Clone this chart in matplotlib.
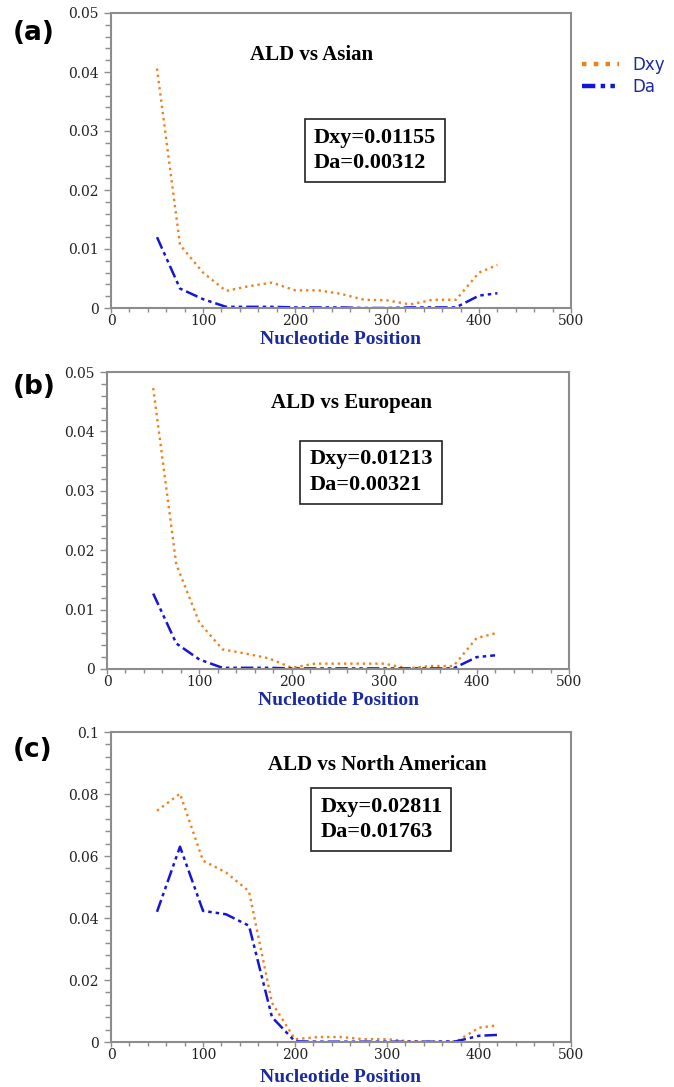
"""Dxy and Da along the nucleotide position for ALD vs three populations."""
import matplotlib
matplotlib.use("Agg")
import matplotlib.pyplot as plt
from matplotlib.lines import Line2D
from matplotlib.ticker import MultipleLocator, FormatStrFormatter

positions = [50, 75, 100, 125, 150, 175, 200, 225, 250, 275, 300, 325, 350, 375, 400, 420]

asian_dxy = [0.0406, 0.0107, 0.0060, 0.0029, 0.0037, 0.0043, 0.0030, 0.0030,
             0.0024, 0.0014, 0.0013, 0.0006, 0.0014, 0.0014, 0.0060, 0.0073]
asian_da = [0.0120, 0.0033, 0.0015, 0.0002, 0.0002, 0.0002, 0.0001, 0.0001,
            0.0001, 0.0000, 0.0000, 0.0001, 0.0001, 0.0001, 0.0021, 0.0025]
europe_dxy = [0.0473, 0.0176, 0.0078, 0.0033, 0.0026, 0.0018, 0.0002, 0.0009,
              0.0009, 0.0009, 0.0009, 0.0001, 0.0005, 0.0005, 0.0052, 0.0060]
europe_da = [0.0127, 0.0043, 0.0016, 0.0002, 0.0002, 0.0002, 0.0001, 0.0001,
             0.0001, 0.0001, 0.0001, 0.0001, 0.0001, 0.0001, 0.0020, 0.0023]
na_dxy = [0.0746, 0.0801, 0.0585, 0.0547, 0.0486, 0.0126, 0.0009, 0.0016,
          0.0016, 0.0009, 0.0009, 0.0002, 0.0001, 0.0001, 0.0046, 0.0054]
na_da = [0.0420, 0.0630, 0.0423, 0.0412, 0.0375, 0.0080, 0.0002, 0.0001,
         0.0001, 0.0001, 0.0001, 0.0001, 0.0001, 0.0002, 0.0020, 0.0023]

panel_tags = ["(a)", "(b)", "(c)"]
titles = ["ALD vs Asian", "ALD vs European", "ALD vs North American"]
summaries = ["Dxy=0.01155\nDa=0.00312", "Dxy=0.01213\nDa=0.00321", "Dxy=0.02811\nDa=0.01763"]
y_max = [0.05, 0.05, 0.1]

W, H = 674, 1087
DXY_COLOR = "#f0801e"
DA_COLOR = "#1515d8"
LABEL_BLUE = "#1c2aa0"
SPINE = "#8c8c8c"
DA_DASH = (0, (5, 1.6, 1.4, 1.6, 1.4, 1.6))

# pixel boxes: left, right, top, bottom
boxes = [(111, 571, 13, 308), (107, 569, 372, 669), (111, 571, 732, 1042)]
title_pos = [(0.437, 0.858), (0.530, 0.896), (0.578, 0.894)]
summary_pos = [(0.441, 0.534), (0.438, 0.663), (0.455, 0.718)]
xlabel_pad = [2.5, 2.5, 5.0]
tag_y = [33, 387, 750]

fig = plt.figure(figsize=(W / 100, H / 100), dpi=100)

series = [(asian_dxy, asian_da), (europe_dxy, europe_da), (na_dxy, na_da)]
for i, (dxy, da) in enumerate(series):
    l, r, t, b = boxes[i]
    ax = fig.add_axes([l / W, 1 - b / H, (r - l) / W, (b - t) / H])
    ax.plot(positions, dxy, color=DXY_COLOR, linestyle=":", linewidth=1.7)
    ax.plot(positions, da, color=DA_COLOR, linestyle=DA_DASH, linewidth=1.8)
    ax.set_xlim(0, 500)
    ax.set_ylim(0, y_max[i])
    ax.xaxis.set_major_locator(MultipleLocator(100))
    ax.xaxis.set_minor_locator(MultipleLocator(20))
    ax.yaxis.set_major_locator(MultipleLocator(y_max[i] / 5))
    ax.yaxis.set_minor_locator(MultipleLocator(y_max[i] / 25))
    ax.yaxis.set_major_formatter(FormatStrFormatter("%g"))
    ax.tick_params(which="both", direction="out", color=SPINE, width=1.0,
                   labelsize=10, labelcolor="#222222")
    ax.tick_params(axis="y", which="major", length=5, pad=4)
    ax.tick_params(axis="y", which="minor", length=4)
    ax.tick_params(axis="x", which="major", length=3.5, pad=0.5)
    ax.tick_params(axis="x", which="minor", length=3)
    for lab in ax.get_xticklabels() + ax.get_yticklabels():
        lab.set_family("DejaVu Serif")
    for sp in ax.spines.values():
        sp.set_color(SPINE)
        sp.set_linewidth(1.5)
    ax.set_xlabel("Nucleotide Position", family="Liberation Serif", fontweight="bold",
                  fontsize=14, color=LABEL_BLUE, labelpad=xlabel_pad[i])
    ax.text(*title_pos[i], titles[i], transform=ax.transAxes, ha="center", va="center",
            family="Liberation Serif", fontweight="bold", fontsize=15)
    ax.text(*summary_pos[i], summaries[i], transform=ax.transAxes, ha="left", va="center",
            family="Liberation Serif", fontweight="bold", fontsize=16, linespacing=1.35,
            bbox=dict(boxstyle="square,pad=0.4", facecolor="white", edgecolor="#222222",
                      linewidth=1.2))
    fig.text(13 / W, 1 - tag_y[i] / H, panel_tags[i], ha="left", va="center",
             family="DejaVu Sans", fontsize=19, fontweight="bold")

handles = [Line2D([], [], color=DXY_COLOR, linestyle=":", linewidth=3.2),
           Line2D([], [], color=DA_COLOR, linestyle=(0, (3, 1.2, 1, 1.2, 1, 1.2)), linewidth=3.2)]
fig.legend(handles, ["Dxy", "Da"], loc="upper left", bbox_to_anchor=(582 / W, 1 - 56 / H),
           frameon=False, prop={"family": "DejaVu Sans", "size": 12}, labelcolor=LABEL_BLUE,
           handlelength=2.2, handletextpad=0.8, labelspacing=0.25, borderpad=0, borderaxespad=0)

fig.savefig("out.png", dpi=100)
